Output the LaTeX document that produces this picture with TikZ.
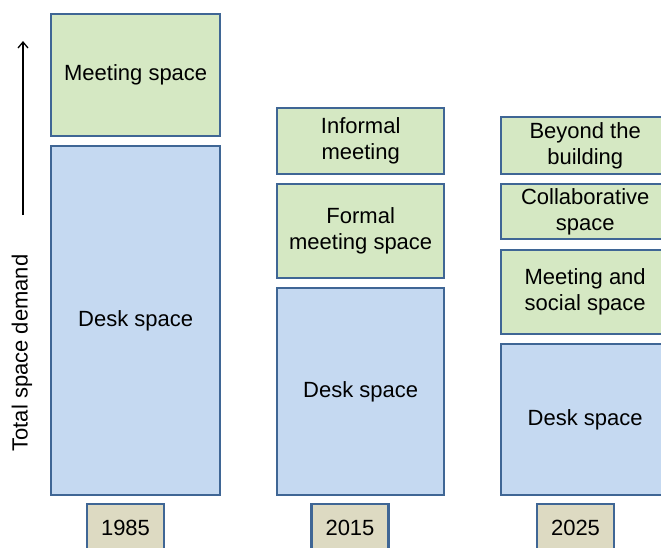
\documentclass[tikz,border=0pt]{standalone}
\usepackage{fontspec}
\setmainfont{Liberation Sans}
\usetikzlibrary{arrows.meta}
\definecolor{bordblue}{HTML}{3F6695}
\definecolor{greenfill}{HTML}{D5E8C3}
\definecolor{bluefill}{HTML}{C5D9F1}
\definecolor{tanfill}{HTML}{DDDAC2}
\tikzset{
  blk/.style={draw=bordblue, line width=2.4pt, inner sep=0pt, anchor=north west, align=center,
    font=\fontsize{22}{26}\selectfont},
  grn/.style={blk, fill=greenfill},
  blu/.style={blk, fill=bluefill},
  yr/.style={blk, fill=tanfill},
}
\begin{document}
\begin{tikzpicture}[x=1pt,y=-1pt]
\clip (0,0) rectangle (661,547);
\fill[white] (0,0) rectangle (661,547);
% column 1985
\node[grn, minimum width=169pt, minimum height=122pt] (m85) at (50,13) {Meeting space};
\node[blu, minimum width=169pt, minimum height=349pt] (d85) at (50,145) {Desk space};
% column 2015
\node[grn, minimum width=167pt, minimum height=66pt] (i15) at (276,107) {Informal\\meeting};
\node[grn, minimum width=167pt, minimum height=94pt] (f15) at (276,183) {Formal\\meeting space};
\node[blu, minimum width=167pt, minimum height=207pt] (d15) at (276,287) {Desk space};
% column 2025
\node[grn, minimum width=168pt, minimum height=57pt] (b25) at (500,116) {Beyond the\\building};
\node[grn, minimum width=168pt, minimum height=55pt] (c25) at (500,183) {Collaborative\\space};
\node[grn, minimum width=168pt, minimum height=84pt] (s25) at (500,249) {Meeting and\\social space};
\node[blu, minimum width=168pt, minimum height=151pt] (d25) at (500,343) {Desk space};
% years
\node[yr, minimum width=77pt, minimum height=48pt, anchor=north] (y85) at (125.5,503) {1985};
\node[yr, minimum width=77pt, minimum height=48pt, anchor=north] (y15) at (350,503) {2015};
\node[yr, minimum width=77pt, minimum height=48pt, anchor=north] (y25) at (575.5,503) {2025};
% axis
\coordinate (abot) at (23,215);
\coordinate (atop) at (23,41);
\draw[line width=1.3pt, -{Straight Barb[length=6pt,width=10pt]}] (abot) -- (atop);
\node[rotate=90, font=\fontsize{22}{26}\selectfont] (lab) at (22,353) {Total space demand};
\end{tikzpicture}
\end{document}
